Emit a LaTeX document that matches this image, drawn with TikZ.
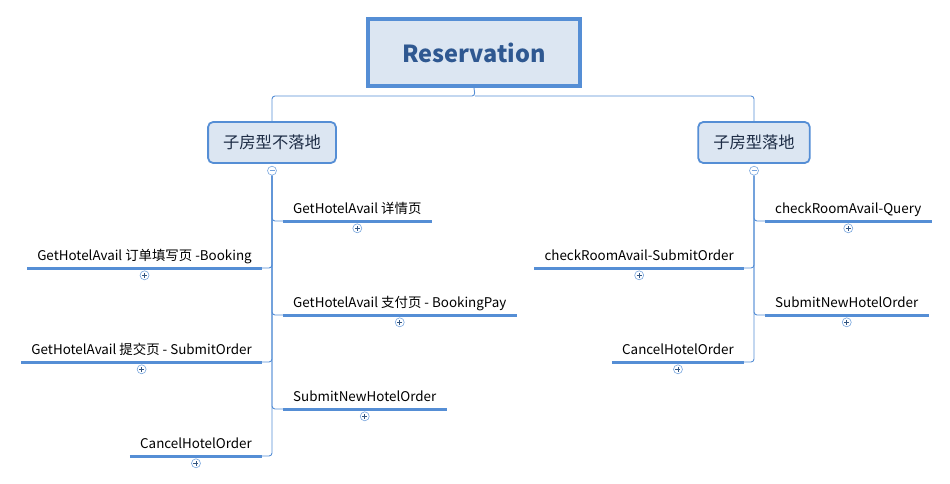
\documentclass[tikz,border=0pt]{standalone}
\usepackage{fontspec}
\setmainfont{Noto Sans CJK SC}
\usetikzlibrary{positioning}
\definecolor{linea}{RGB}{85,142,213}
\definecolor{sfondo}{RGB}{220,230,242}
\definecolor{testoblu}{RGB}{47,88,145}
\definecolor{testoscuro}{RGB}{30,45,70}

\begin{document}
\begin{tikzpicture}[
  x=1pt, y=-1pt,
  radice/.style={draw=linea, fill=sfondo, line width=4pt, minimum width=212pt,
                 minimum height=67pt, font=\fontsize{23.5}{26}\selectfont\bfseries, text=testoblu},
  figlio/.style={draw=linea, fill=sfondo, line width=1.8pt, rounded corners=5pt,
                 inner xsep=15pt, minimum height=41pt, font=\fontsize{16.3}{19}\selectfont, text=testoscuro},
  ramo/.style={inner xsep=10pt, inner ysep=2pt, text height=10.5pt, text depth=5pt,
               font=\fontsize{13.4}{16}\selectfont,
               append after command={(\tikzlastnode.south west) edge[sottolinea] (\tikzlastnode.south east)}},
  sottolinea/.style={draw=linea, line width=3pt},
  collegamento/.style={draw=linea, line width=0.9pt, rounded corners=3pt},
  segno/.style={circle, draw=linea!80, fill=white, line width=0.6pt, inner sep=0pt, minimum size=9pt},
  piu/.style={segno, path picture={\draw[linea!60!black, line width=0.6pt]
      ([xshift=-2.5pt]path picture bounding box.center) -- ([xshift=2.5pt]path picture bounding box.center)
      ([yshift=-2.5pt]path picture bounding box.center) -- ([yshift=2.5pt]path picture bounding box.center);}},
  meno/.style={segno, path picture={\draw[linea!80, line width=0.6pt]
      ([xshift=-2.5pt]path picture bounding box.center) -- ([xshift=2.5pt]path picture bounding box.center);}}
]
\useasboundingbox (0,0) rectangle (950,484);

% radice e figli
\node[radice] (R) at (474,52.5) {Reservation};
\node[figlio] (SL) at (272,142.5) {子房型不落地};
\node[figlio] (SR) at (754,142.5) {子房型落地};
\coordinate (hub) at (475,96);
\draw[collegamento] (R.south) -- (hub) -| (SL.north);
\draw[collegamento] (hub) -| (SR.north);
\node[meno, below=2pt of SL.south] (mL) {};
\node[meno, below=2pt of SR.south] (mR) {};

% rami sinistri
\node[ramo, anchor=south west] (L1) at (283,221) {GetHotelAvail 详情页};
\node[ramo, anchor=south east] (L2) at (262,268) {GetHotelAvail 订单填写页 -Booking};
\node[ramo, anchor=south west] (L3) at (283,315) {GetHotelAvail 支付页 - BookingPay};
\node[ramo, anchor=south east] (L4) at (262,362) {GetHotelAvail 提交页 - SubmitOrder};
\node[ramo, anchor=south west] (L5) at (283,409) {SubmitNewHotelOrder};
\node[ramo, anchor=south east] (L6) at (262,456) {CancelHotelOrder};

% rami destri
\node[ramo, anchor=south west] (D1) at (765,221) {checkRoomAvail-Query};
\node[ramo, anchor=south east] (D2) at (744,268) {checkRoomAvail-SubmitOrder};
\node[ramo, anchor=south west] (D3) at (765,315) {SubmitNewHotelOrder};
\node[ramo, anchor=south east] (D4) at (744,362) {CancelHotelOrder};

% collegamenti
\foreach \n in {L1,L3,L5} \draw[collegamento] (mL.south) |- (\n.south west);
\foreach \n in {L2,L4,L6} \draw[collegamento] (mL.south) |- (\n.south east);
\foreach \n in {D1,D3} \draw[collegamento] (mR.south) |- (\n.south west);
\foreach \n in {D2,D4} \draw[collegamento] (mR.south) |- (\n.south east);

% segni piu
\foreach \n in {L1,L2,L3,L4,L5,L6,D1,D2,D3,D4}
  \node[piu, below=2.5pt of \n.south] (p\n) {};

\end{tikzpicture}
\end{document}
